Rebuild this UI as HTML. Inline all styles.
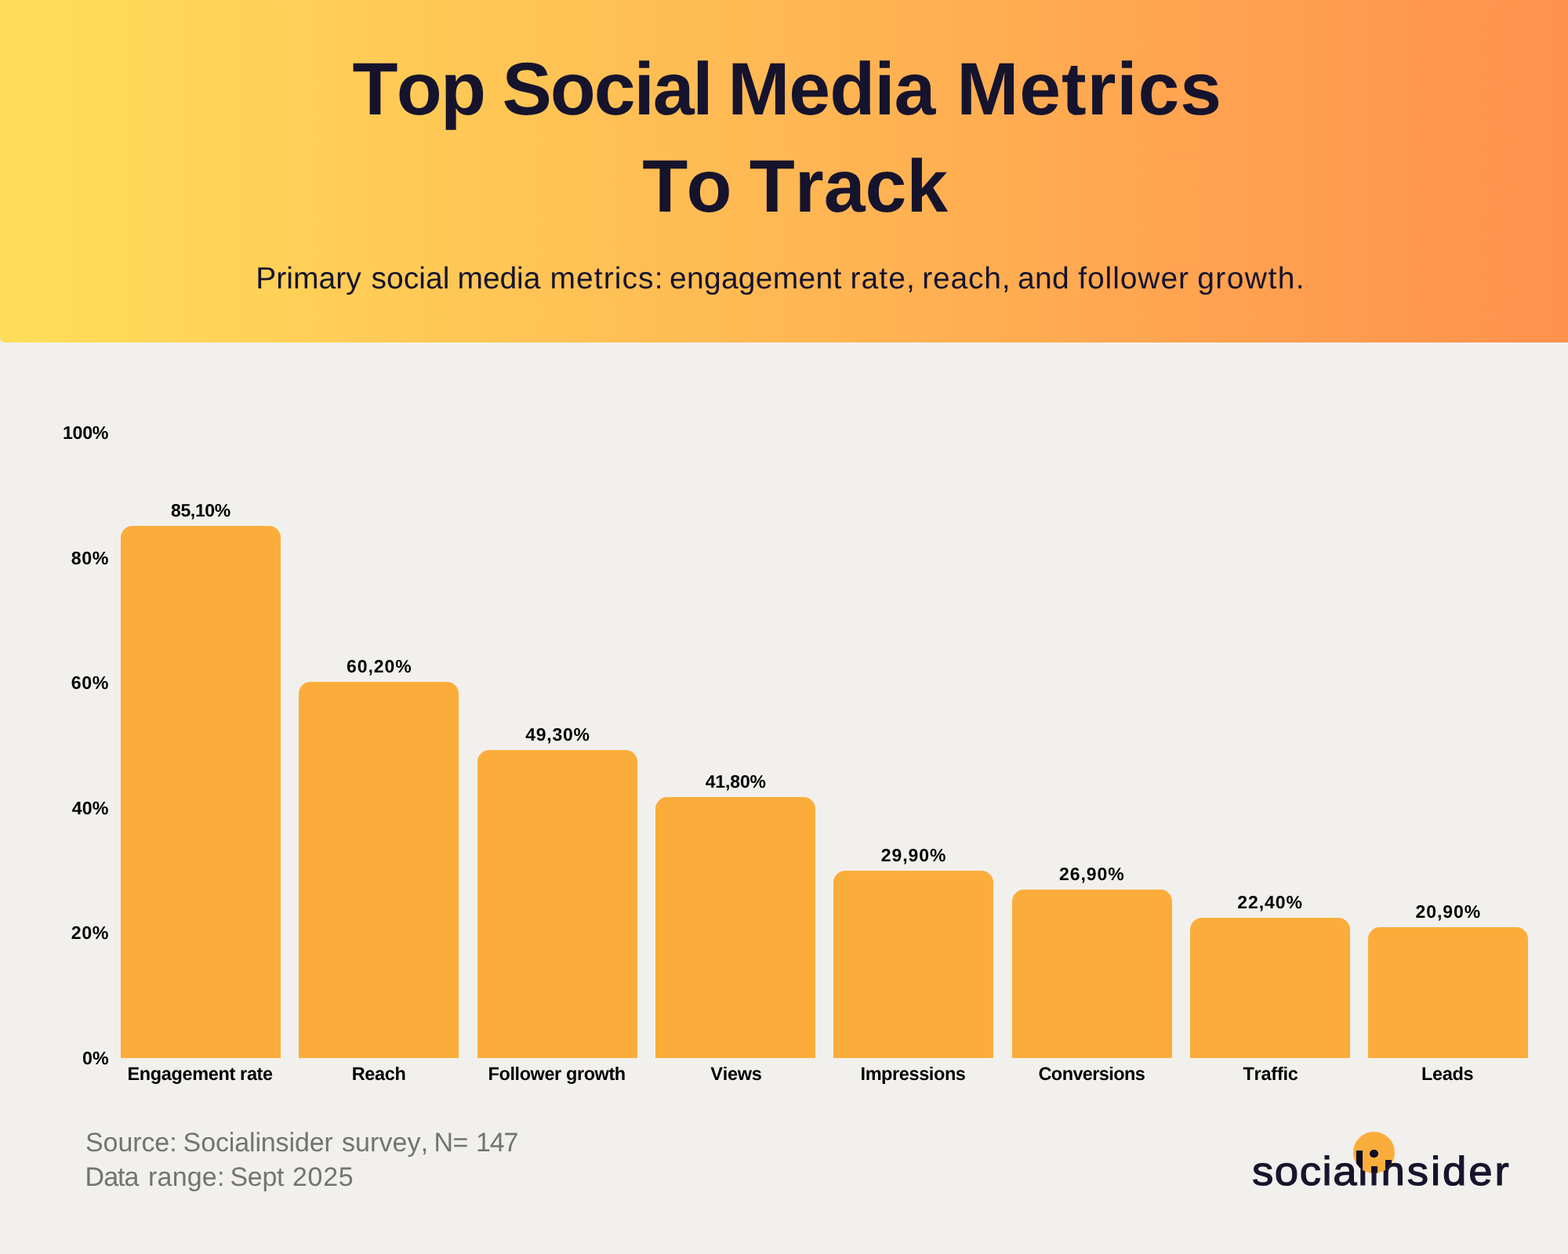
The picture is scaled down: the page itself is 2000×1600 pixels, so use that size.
<!DOCTYPE html>
<html lang="en"><head><meta charset="utf-8"><title>Top Social Media Metrics To Track</title>
<style>
*{margin:0;padding:0;box-sizing:border-box}
html,body{width:2000px;height:1600px;background:#f2f0ed;overflow:hidden}
body{font-family:"Liberation Sans",sans-serif;position:relative;color:#000;text-rendering:geometricPrecision;font-kerning:none}
#page{position:absolute;left:0;top:0;width:2000px;height:1600px;background:#f2f0ed;overflow:hidden}
#page div,#page h1,#page p,.ln{position:absolute;white-space:nowrap;line-height:1}
.w{position:relative}
#hdr{left:0;top:0;width:2000px;height:437px;border-radius:0 0 0 6px;background:linear-gradient(90deg,#ffde59 0%,#ff914d 100%)}
h1{left:0;top:0;width:2000px;height:300px;font-weight:700;font-size:95px;color:#16132d}
.ln{left:0}
#sub{left:0;width:2000px;font-size:39px;font-weight:400;color:#16132d}
.bar{background:#fbad3b;border-radius:15px 15px 0 0;width:204px}
.ax,.val,.cat{font-weight:700;color:#000}
.ax{font-size:23.25px}
.val{font-size:23px}
.cat{font-size:23.5px}
.src{left:0;color:#737373;font-size:34px;font-weight:400}
#logo{left:1590px;top:1440px;width:350px;height:90px}
#lt{left:0;width:330px;font-size:51.5px;color:#17142c;-webkit-text-stroke:1.2px #17142c;filter:blur(.45px);transform:scaleX(1.06);transform-origin:0 0}
#dot{border-radius:50%;background:#fbad3b;overflow:hidden}
#dot i{position:absolute;display:block;background:#0e0c27}
</style></head>
<body><div id="page">
<div id="hdr"></div>
<h1><span class="ln" style="top:66.8px"><span class="w" style="left:449.60px;letter-spacing:-1.85px">Top</span> <span class="w" style="left:445.65px;letter-spacing:-2.14px">Social</span> <span class="w" style="left:439.92px;letter-spacing:-1.05px">Media</span> <span class="w" style="left:441.53px;letter-spacing:0.87px">Metrics</span></span> <span class="ln" style="top:191.0px"><span class="w" style="left:819.30px;letter-spacing:-1.8px">To</span> <span class="w" style="left:816.83px;letter-spacing:-0.03px">Track</span></span></h1>
<p id="sub" style="top:336px"><span class="w" style="left:326.20px;letter-spacing:0.05px">Primary</span> <span class="w" style="left:327.97px;letter-spacing:0.06px">social</span> <span class="w" style="left:327.05px;letter-spacing:-0.1px">media</span> <span class="w" style="left:328.47px;letter-spacing:1.07px">metrics:</span> <span class="w" style="left:325.06px;letter-spacing:0.28px">engagement</span> <span class="w" style="left:325.06px;letter-spacing:1.07px">rate,</span> <span class="w" style="left:322.53px;letter-spacing:0.82px">reach,</span> <span class="w" style="left:320.16px;letter-spacing:0.3px">and</span> <span class="w" style="left:320.63px;letter-spacing:0.9px">follower</span> <span class="w" style="left:320.09px;letter-spacing:1.43px">growth.</span></p>
<div id="chart" style="left:0;top:0">
<div class="ax" style="left:79.95px;top:541.0px;letter-spacing:-0.32px">100%</div>
<div class="ax" style="left:90.8px;top:700.6px;letter-spacing:0.6px">80%</div>
<div class="ax" style="left:90.8px;top:860.2px;letter-spacing:0.6px">60%</div>
<div class="ax" style="left:91.8px;top:1019.8px;letter-spacing:0.1px">40%</div>
<div class="ax" style="left:90.8px;top:1179.4px;letter-spacing:0.6px">20%</div>
<div class="ax" style="left:105.0px;top:1339.0px;letter-spacing:0.0px">0%</div>
<div class="bar" style="left:154.20px;top:671.16px;height:678.84px"></div>
<div class="val" style="left:217.95px;top:640.16px;letter-spacing:-0.34px">85,10%</div>
<div class="cat" style="left:162.5px;top:1359.25px;letter-spacing:-0.36px">Engagement rate</div>
<div class="bar" style="left:381.46px;top:869.78px;height:480.22px"></div>
<div class="val" style="left:441.91px;top:838.78px;letter-spacing:0.98px">60,20%</div>
<div class="cat" style="left:448.75px;top:1359.25px;letter-spacing:-0.38px">Reach</div>
<div class="bar" style="left:608.72px;top:956.73px;height:393.27px"></div>
<div class="val" style="left:670.32px;top:925.73px;letter-spacing:0.72px">49,30%</div>
<div class="cat" style="left:622.5px;top:1359.25px;letter-spacing:-0.41px">Follower growth</div>
<div class="bar" style="left:835.98px;top:1016.56px;height:333.44px"></div>
<div class="val" style="left:899.73px;top:985.56px;letter-spacing:-0.14px">41,80%</div>
<div class="cat" style="left:906.25px;top:1359.25px;letter-spacing:-0.25px">Views</div>
<div class="bar" style="left:1063.24px;top:1111.49px;height:238.51px"></div>
<div class="val" style="left:1123.84px;top:1080.49px;letter-spacing:0.92px">29,90%</div>
<div class="cat" style="left:1097.5px;top:1359.25px;letter-spacing:-0.4px">Impressions</div>
<div class="bar" style="left:1290.50px;top:1135.42px;height:214.58px"></div>
<div class="val" style="left:1351.1px;top:1104.42px;letter-spacing:0.92px">26,90%</div>
<div class="cat" style="left:1324.5px;top:1359.25px;letter-spacing:-0.6px">Conversions</div>
<div class="bar" style="left:1517.76px;top:1171.32px;height:178.68px"></div>
<div class="val" style="left:1578.36px;top:1140.32px;letter-spacing:0.92px">22,40%</div>
<div class="cat" style="left:1585.5px;top:1359.25px;letter-spacing:-0.25px">Traffic</div>
<div class="bar" style="left:1745.02px;top:1183.28px;height:166.72px"></div>
<div class="val" style="left:1805.62px;top:1152.28px;letter-spacing:0.92px">20,90%</div>
<div class="cat" style="left:1813px;top:1359.25px;letter-spacing:-0.31px">Leads</div>
</div>
<p class="src" style="top:1441.0px"><span class="w" style="left:109.00px;letter-spacing:-0.1px">Source:</span> <span class="w" style="left:107.66px;letter-spacing:-0.13px">Socialinsider</span> <span class="w" style="left:109.53px;letter-spacing:0.1px">survey,</span> <span class="w" style="left:107.38px;letter-spacing:-0.6px">N=</span> <span class="w" style="left:108.11px;letter-spacing:-1.2px">147</span></p>
<p class="src" style="top:1484.6px"><span class="w" style="left:108.60px;letter-spacing:-1.0px">Data</span> <span class="w" style="left:111.72px;letter-spacing:0.2px">range:</span> <span class="w" style="left:109.26px;letter-spacing:-0.4px">Sept</span> <span class="w" style="left:110.86px;letter-spacing:0.67px">2025</span></p>
<div id="logo">
<div id="lt" style="top:28.60px"><span class="w" style="left:6.55px;letter-spacing:1.48px">social</span><span class="w" style="left:7.10px;letter-spacing:2.74px">insider</span></div>
<div id="dot" style="left:136.3px;top:3.6px;width:53.0px;height:53.0px"><i style="left:3.9px;top:24.9px;width:7.7px;height:40.0px"></i><i style="left:21.1px;top:23.0px;width:10.5px;height:10.5px;border-radius:50%"></i><i style="left:23.2px;top:44.8px;width:7.7px;height:20.0px"></i><i style="left:40.9px;top:36.1px;width:7.8px;height:30.0px"></i></div>
</div>
</div></body></html>
